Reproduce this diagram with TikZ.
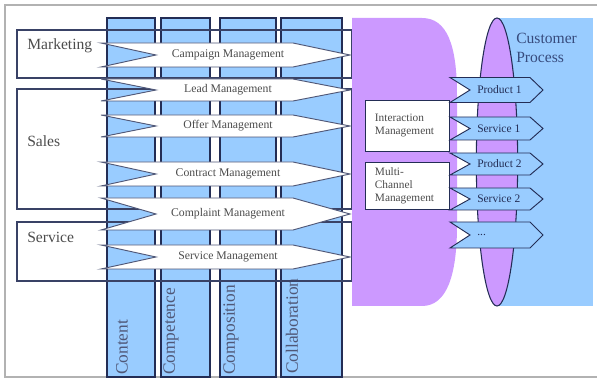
\documentclass[tikz,border=0pt]{standalone}
\usepackage{fontspec}
\setmainfont{Liberation Serif}
\usepackage{tikz}
\definecolor{colblue}{RGB}{153,204,255}
\definecolor{chanviolet}{RGB}{204,153,255}
\definecolor{edgenavy}{RGB}{35,45,85}
\definecolor{custtext}{RGB}{55,75,125}
\tikzstyle{frame} = [draw=gray!60, line width=1.2pt]
\tikzstyle{column} = [draw=edgenavy, line width=1pt, fill=colblue]
\tikzstyle{segment} = [draw=edgenavy!90, line width=0.9pt]
\tikzstyle{procshape} = [draw=edgenavy!80, line width=0.7pt, fill=white]
\tikzstyle{offershape} = [draw=edgenavy, line width=0.7pt, fill=colblue]
\tikzset{
  seglbl/.style ={anchor=west, inner sep=0pt, text=black!70, font=\rmfamily\fontsize{11.7}{14}\selectfont},
  collbl/.style ={anchor=west, inner sep=0pt, rotate=90, text=edgenavy!80, font=\rmfamily\fontsize{13}{15}\selectfont},
  proclbl/.style ={text=black!70, font=\rmfamily\fontsize{8.8}{10}\selectfont},
  offerlbl/.style ={anchor=west, inner sep=0pt, text=edgenavy, font=\rmfamily\fontsize{8.6}{10}\selectfont},
  infobox/.style ={draw=edgenavy, line width=0.9pt, fill=white, anchor=north west, align=left,
    minimum width=63pt, text width=49pt, inner xsep=7pt, text=black!70, font=\rmfamily\fontsize{8.5}{9.8}\selectfont}
}
\newcommand{\procchev}[4]{%
  \draw[procshape] (101,#2-#3) -- (293,#2-#3) -- (350,#2) -- (293,#2+#3) -- (101,#2+#3) -- (156,#2) -- cycle;
  \node[proclbl] (#1) at (228,#2) {#4};}
\newcommand{\offerchev}[4]{%
  \draw[offershape] (450,#2-#3) -- (530,#2-#3) -- (543,#2) -- (530,#2+#3) -- (450,#2+#3) -- (470,#2) -- cycle;
  \node[offerlbl] (#1) at (477,#2) {#4};}

\begin{document}
\begin{tikzpicture}[x=0.75pt,y=-0.75pt]
	\useasboundingbox (0,0) rectangle (597,381);
	\draw [frame] (597,5) -- (5,5) -- (5,377) -- (597,377);

	\draw [column] (107,18) rectangle (155,377);
	\draw [column] (161,18) rectangle (210,377);
	\draw [column] (220,18) rectangle (276,377);
	\draw [column] (281,18) rectangle (342,377);
	\node [collbl] (content) at (122,375) {Content};
	\node [collbl] (competence) at (171,375) {Competence};
	\node [collbl] (composition) at (231,375) {Composition};
	\node [collbl] (collaboration) at (292,374) {Collaboration};

	\draw [segment] (17,30) rectangle (352,78);
	\draw [segment] (17,89) rectangle (352,209);
	\draw [segment] (17,222) rectangle (352,281);
	\node [seglbl] (marketing) at (27,46) {Marketing};
	\node [seglbl] (sales) at (27,141) {Sales};
	\node [seglbl] (service) at (27,237) {Service};

	\procchev{campaign}{55}{12}{Campaign Management}
	\procchev{lead}{90}{11}{Lead Management}
	\procchev{offer}{126}{11}{Offer Management}
	\procchev{contract}{174}{12}{Contract Management}
	\procchev{complaint}{214}{16}{Complaint Management}
	\procchev{servmgmt}{257}{12}{Service Management}

	\fill [chanviolet] (352,18) -- (422,18) .. controls (447,18) and (457,45) .. (457,95) -- (457,225) .. controls (457,275) and (447,306) .. (422,306) -- (352,306) -- cycle;
	\fill [colblue] (497,18) rectangle (593,306);
	\draw [edgenavy, line width=0.8pt, fill=chanviolet] (497,162) ellipse [x radius=15.5pt, y radius=108pt];

	\node [infobox, minimum height=38pt] (interaction) at (365,100) {Interaction\\Management};
	\node [infobox, minimum height=35pt] (multichannel) at (365,162) {Multi-\\Channel\\Management};

	\offerchev{product1}{90}{12.5}{Product 1}
	\offerchev{service1}{128.5}{11.5}{Service 1}
	\offerchev{product2}{164}{11}{Product 2}
	\offerchev{service2}{199}{11}{Service 2}
	\offerchev{more}{235}{13}{...}

	\node [anchor=north west, align=left, inner sep=0pt, text=custtext, font=\rmfamily\fontsize{11.7}{14.2}\selectfont] (customer) at (516,33) {Customer\\Process};

\end{tikzpicture}
\end{document}
